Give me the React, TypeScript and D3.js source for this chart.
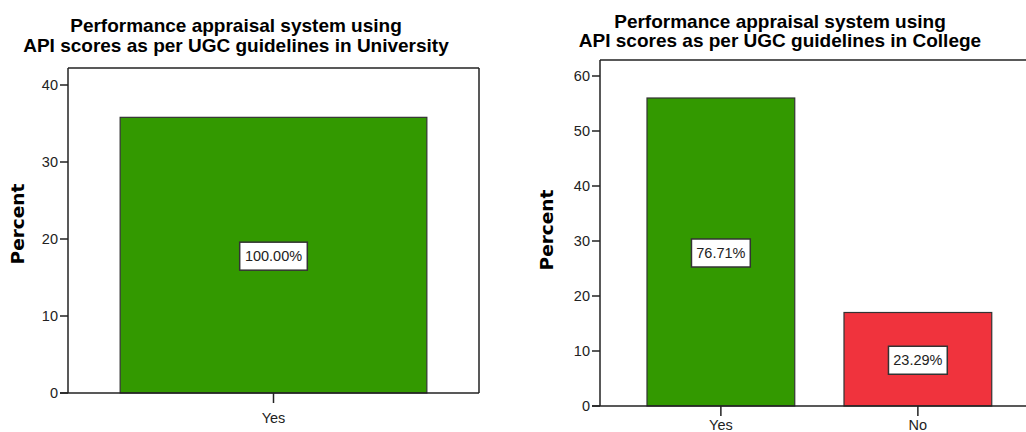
import React from "react";
import * as d3 from "d3";

const uniCategories = ["Yes"];
const uniValues = [35.8];
const uniLabels = ["100.00%"];
const uniTicks = [0, 10, 20, 30, 40];
const uniTitle = ["Performance appraisal system using", "API scores as per UGC guidelines in University"];

const colCategories = ["Yes", "No"];
const colValues = [56.0, 17.0];
const colLabels = ["76.71%", "23.29%"];
const colTicks = [0, 10, 20, 30, 40, 50, 60];
const colTitle = ["Performance appraisal system using", "API scores as per UGC guidelines in College"];

const barColors: Record<string, string> = { Yes: "#339900", No: "#f0333d" };

const TITLE_FONT = "'Liberation Sans Narrow', 'Arial Narrow', 'Liberation Sans', Arial, sans-serif";
const FONT = "'Liberation Sans', Arial, sans-serif";

type PanelProps = {
  categories: string[];
  values: number[];
  labels: string[];
  ticks: number[];
  title: string[];
  frame: { left: number; right: number; top: number; bottom: number };
  yMax: number;
  yTop: number;
  xRange: [number, number];
  padInner: number;
  padOuter: number;
  titleX: number;
  titleY: [number, number];
  percentX: number;
  percentY: number;
  rightBorder: boolean;
  catLabelY: number;
};

function Panel(p: PanelProps) {
  const y = d3.scaleLinear().domain([0, p.yMax]).range([p.frame.bottom, p.yTop]);
  const x = d3
    .scaleBand<string>()
    .domain(p.categories)
    .range(p.xRange)
    .paddingInner(p.padInner)
    .paddingOuter(p.padOuter);
  const f = p.frame;
  return (
    <g>
      {p.title.map((t, i) => (
        <text
          key={i}
          x={p.titleX}
          y={p.titleY[i]}
          textAnchor="middle"
          fontFamily={TITLE_FONT}
          fontWeight="bold"
          fontSize={19}
          fill="#000"
        >
          {t}
        </text>
      ))}
      <text
        transform={`translate(${p.percentX},${p.percentY}) rotate(-90)`}
        textAnchor="middle"
        fontFamily="'DejaVu Sans', Verdana, sans-serif"
        fontWeight="bold"
        fontSize={18.5}
        fill="#000"
      >
        Percent
      </text>
      {/* frame */}
      <line x1={f.left} x2={f.right} y1={f.top} y2={f.top} stroke="#222" strokeWidth={1.5} />
      {p.rightBorder && (
        <line x1={f.right} x2={f.right} y1={f.top} y2={f.bottom} stroke="#222" strokeWidth={1.5} />
      )}
      {/* bars */}
      {p.categories.map((c, i) => (
        <rect
          key={c}
          x={x(c)}
          y={y(p.values[i])}
          width={x.bandwidth()}
          height={y(0) - y(p.values[i])}
          fill={barColors[c]}
          stroke="#333"
          strokeWidth={1.2}
        />
      ))}
      {/* axes */}
      <line x1={f.left} x2={f.left} y1={f.top} y2={f.bottom} stroke="#222" strokeWidth={1.5} />
      <line x1={f.left - 8} x2={f.right} y1={f.bottom} y2={f.bottom} stroke="#222" strokeWidth={1.5} />
      {p.ticks.map((t) => (
        <g key={t}>
          <line x1={f.left - 8} x2={f.left} y1={y(t)} y2={y(t)} stroke="#222" strokeWidth={1.5} />
          <text
            x={f.left - 10}
            y={y(t)}
            dy="0.35em"
            textAnchor="end"
            fontFamily={FONT}
            fontSize={14.5}
            fill="#222"
          >
            {t}
          </text>
        </g>
      ))}
      {p.categories.map((c) => {
        const cx = (x(c) as number) + x.bandwidth() / 2;
        return (
          <g key={c}>
            <line x1={cx} x2={cx} y1={f.bottom} y2={f.bottom + 10} stroke="#222" strokeWidth={1.5} />
            <text x={cx} y={p.catLabelY} textAnchor="middle" fontFamily={FONT} fontSize={14.5} fill="#222">
              {c}
            </text>
          </g>
        );
      })}
      {/* value labels */}
      {p.categories.map((c, i) => {
        const cx = (x(c) as number) + x.bandwidth() / 2;
        const cy = y(p.values[i] / 2) + 1;
        const w = p.labels[i].length * 8.8 + 6;
        return (
          <g key={c}>
            <rect x={cx - w / 2} y={cy - 14} width={w} height={28} fill="#fff" stroke="#333" strokeWidth={1.5} />
            <text x={cx} y={cy} dy="0.36em" textAnchor="middle" fontFamily={FONT} fontSize={14.5} fill="#222">
              {p.labels[i]}
            </text>
          </g>
        );
      })}
    </g>
  );
}

export default function App() {
  return (
    <svg width={1026} height={432} style={{ position: "absolute", left: 0, top: 0, background: "#fff" }}>
      <rect width={1026} height={432} fill="#fff" />
      <Panel
        categories={uniCategories}
        values={uniValues}
        labels={uniLabels}
        ticks={uniTicks}
        title={uniTitle}
        frame={{ left: 68, right: 479, top: 68, bottom: 393 }}
        yMax={40}
        yTop={85}
        xRange={[68, 479]}
        padInner={0}
        padOuter={0.17}
        titleX={236}
        titleY={[32, 52]}
        percentX={24}
        percentY={224}
        rightBorder={true}
        catLabelY={423}
      />
      <Panel
        categories={colCategories}
        values={colValues}
        labels={colLabels}
        ticks={colTicks}
        title={colTitle}
        frame={{ left: 600, right: 1026, top: 60, bottom: 406 }}
        yMax={60}
        yTop={76}
        xRange={[597.75, 1041]}
        padInner={0.25}
        padOuter={0.25}
        titleX={780}
        titleY={[28, 47]}
        percentX={553}
        percentY={230}
        rightBorder={false}
        catLabelY={430}
      />
    </svg>
  );
}
